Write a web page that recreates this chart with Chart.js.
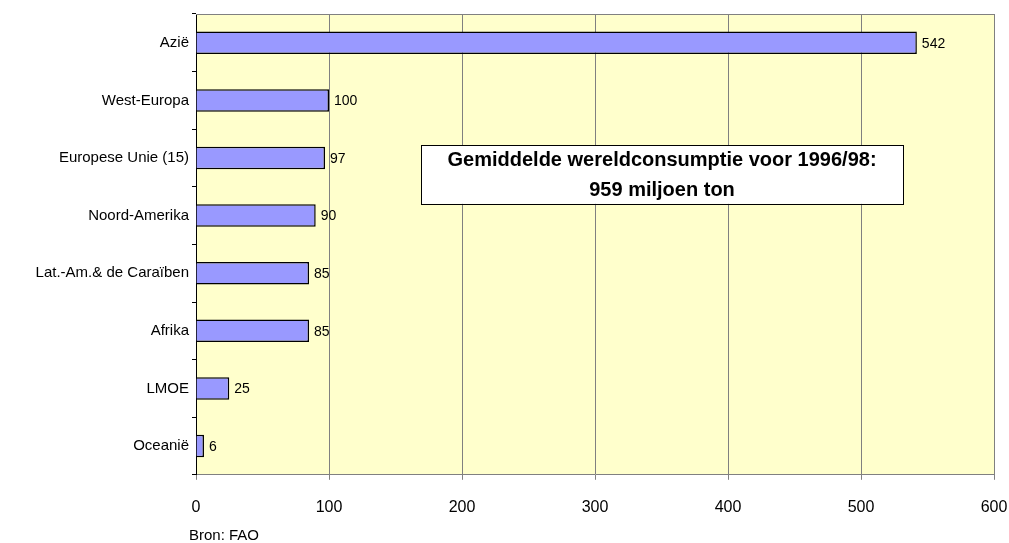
<!DOCTYPE html>
<html>
<head>
<meta charset="utf-8">
<script src="https://cdn.jsdelivr.net/npm/chart.js@4"></script>
<style>
  html, body { margin: 0; padding: 0; background: #fff; }
  #wrap { width: 1009px; height: 543px; position: relative; }
</style>
</head>
<body>
<div id="wrap"><canvas id="consumptionChart"></canvas></div>
<script>
// data
const regions = ["Azië", "West-Europa", "Europese Unie (15)", "Noord-Amerika", "Lat.-Am.& de Caraïben", "Afrika", "LMOE", "Oceanië"];
const consumption = [542, 100, 97, 90, 85, 85, 25, 6];
const xTicks = [0, 100, 200, 300, 400, 500, 600];
const noteLines = ["Gemiddelde wereldconsumptie voor 1996/98:", "959 miljoen ton"];
const sourceText = "Bron: FAO";

const FONT = "Arial, 'Liberation Sans', sans-serif";

// yellow plot background + frame
const plotBackground = {
    id: "plotBackground",
    beforeDraw(chart) {
        const { ctx, chartArea: a } = chart;
        ctx.save();
        ctx.fillStyle = "#FFFFCC";
        ctx.fillRect(a.left, a.top, a.right - a.left, a.bottom - a.top);
        ctx.restore();
    },
    afterDraw(chart) {
        const { ctx, chartArea: a } = chart;
        ctx.save();
        ctx.strokeStyle = "#808080";
        ctx.lineWidth = 1;
        ctx.beginPath();
        ctx.moveTo(a.left, a.top + 0.5);
        ctx.lineTo(a.right, a.top + 0.5);
        ctx.stroke();
        ctx.restore();
    }
};

// value labels next to each bar
const valueLabels = {
    id: "valueLabels",
    afterDatasetsDraw(chart) {
        const { ctx } = chart;
        const meta = chart.getDatasetMeta(0);
        ctx.save();
        ctx.font = "14px " + FONT;
        ctx.fillStyle = "#000";
        ctx.textAlign = "left";
        ctx.textBaseline = "middle";
        meta.data.forEach((bar, i) => {
            ctx.fillText(String(consumption[i]), bar.x + 5, bar.y + 1);
        });
        ctx.restore();
    }
};

// note box and source text
const noteBox = {
    id: "noteBox",
    afterDraw(chart) {
        const { ctx, chartArea: a } = chart;
        const w = a.right - a.left, h = a.bottom - a.top;
        const x1 = a.left + w * 0.282, x2 = a.left + w * 0.886;
        const y1 = a.top + h * 0.285, y2 = a.top + h * 0.412;
        ctx.save();
        ctx.fillStyle = "#fff";
        ctx.fillRect(x1, y1, x2 - x1, y2 - y1);
        ctx.strokeStyle = "#000";
        ctx.lineWidth = 1;
        ctx.strokeRect(Math.round(x1) + 0.5, Math.round(y1) + 0.5, Math.round(x2 - x1), Math.round(y2 - y1));
        ctx.fillStyle = "#000";
        ctx.font = "bold 20px " + FONT;
        ctx.textAlign = "center";
        ctx.textBaseline = "middle";
        const cx = (x1 + x2) / 2, cy = (y1 + y2) / 2;
        ctx.fillText(noteLines[0], cx, cy - 14);
        ctx.fillText(noteLines[1], cx, cy + 16);

        ctx.font = "15px " + FONT;
        ctx.textAlign = "left";
        ctx.fillText(sourceText, 189, 536);
        ctx.restore();
    }
};

new Chart(document.getElementById("consumptionChart"), {
    type: "bar",
    data: {
        labels: regions,
        datasets: [{
            data: consumption,
            backgroundColor: "#9999FF",
            borderColor: "#000",
            borderWidth: 1.5,
            barPercentage: 0.39,
            categoryPercentage: 1
        }]
    },
    options: {
        indexAxis: "y",
        responsive: true,
        maintainAspectRatio: false,
        animation: false,
        layout: { padding: { top: 14, right: 0, bottom: 8, left: 0 } },
        plugins: { legend: { display: false }, tooltip: { enabled: false } },
        scales: {
            x: {
                min: 0,
                max: 600,
                afterBuildTicks: scale => { scale.ticks = xTicks.map(v => ({ value: v })); },
                afterFit: scale => { scale.paddingRight = 15; scale.paddingLeft = 0; },
                grid: { color: "#808080", lineWidth: 1, tickLength: 5, drawTicks: true },
                border: { color: "#808080", width: 1 },
                ticks: { color: "#000", font: { family: FONT, size: 16 }, padding: 18, maxRotation: 0 }
            },
            y: {
                afterFit: scale => { scale.width = 196; },
                grid: { drawOnChartArea: false, color: "#000", tickLength: 4 },
                border: { color: "#000", width: 1 },
                ticks: { color: "#000", font: { family: FONT, size: 15 }, padding: 3 }
            }
        }
    },
    plugins: [plotBackground, valueLabels, noteBox]
});
</script>
</body>
</html>
